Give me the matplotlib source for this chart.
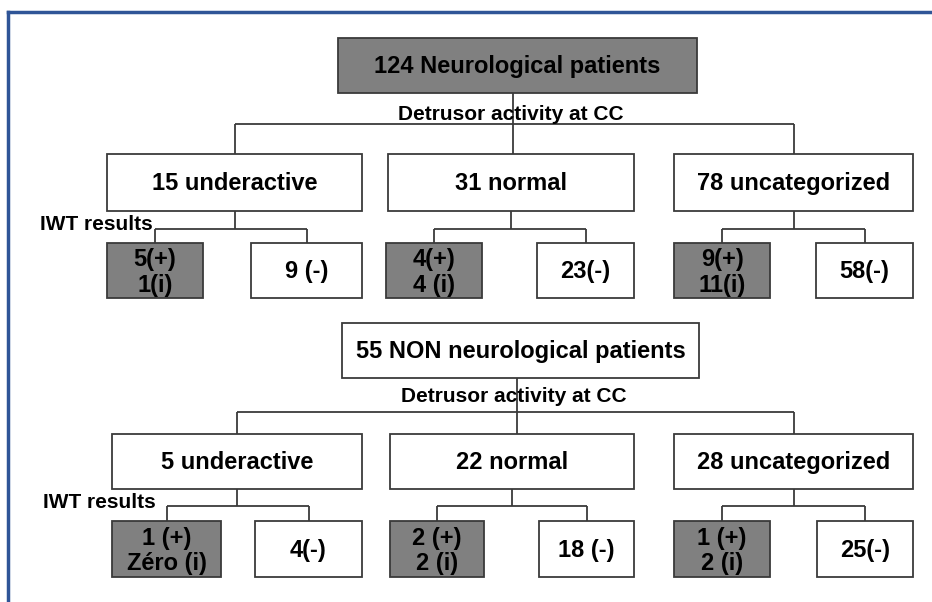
import matplotlib
matplotlib.use("Agg")
import matplotlib.pyplot as plt
from matplotlib.patches import Rectangle

# ── data ──────────────────────────────────────────────────────────────────────
ROOT_LABELS = ["124 Neurological patients", "55 NON neurological patients"]
BRANCH_TITLE = "Detrusor activity at CC"
RESULT_TITLE = "IWT results"

NEURO_GROUPS = ["15 underactive", "31 normal", "78 uncategorized"]
NEURO_POS = ["5(+)\n1(i)", "4(+)\n4 (i)", "9(+)\n11(i)"]
NEURO_NEG = ["9 (-)", "23(-)", "58(-)"]

NON_GROUPS = ["5 underactive", "22 normal", "28 uncategorized"]
NON_POS = ["1 (+)\nZéro (i)", "2 (+)\n2 (i)", "1 (+)\n2 (i)"]
NON_NEG = ["4(-)", "18 (-)", "25(-)"]

# ── style ─────────────────────────────────────────────────────────────────────
plt.rcParams["font.family"] = ["Liberation Sans", "DejaVu Sans"]
GREY = "#808080"
EDGE = "#3a3a3a"
FRAME = "#2F5597"
LW = 1.3
BOX_FS = 17
SMALL_FS = 15

fig = plt.figure(figsize=(9.32, 6.02), dpi=100)
ax = fig.add_axes([0, 0, 1, 1])
ax.set_xlim(0, 932)
ax.set_ylim(602, 0)
ax.axis("off")


def box(x0, y0, x1, y1, text, fill, size=BOX_FS):
    ax.add_patch(Rectangle((x0, y0), x1 - x0, y1 - y0, facecolor=fill,
                           edgecolor=EDGE, linewidth=LW, zorder=2))
    dy = 2 if "\n" in text else 1
    ax.text((x0 + x1) / 2, (y0 + y1) / 2 + dy, text, ha="center", va="center",
            fontsize=size, fontweight="bold", linespacing=1.12, zorder=3)


def line(xs, ys):
    ax.plot(xs, ys, color=EDGE, linewidth=LW, zorder=1, solid_capstyle="butt")


def tree(root, root_fill, root_box, stem_x, bar_y, title_y,
         groups, pos, neg, grp_y, grp_x, res_bar_y, res_y, pos_x, neg_x,
         iwt_xy):
    rx0, ry0, rx1, ry1 = root_box
    box(rx0, ry0, rx1, ry1, root, root_fill)
    centres = [(a + b) / 2 for a, b in grp_x]
    line([stem_x, stem_x], [ry1, grp_y[0]])
    line([centres[0], centres[-1]], [bar_y, bar_y])
    for c in centres:
        if abs(c - stem_x) > 10:
            line([c, c], [bar_y, grp_y[0]])
    ax.text((rx0 + rx1) / 2 - 7, title_y, BRANCH_TITLE, ha="center",
            va="center", fontsize=SMALL_FS, fontweight="bold", zorder=3)

    for (gx0, gx1), g, p, n, (px0, px1), (nx0, nx1) in zip(
            grp_x, groups, pos, neg, pos_x, neg_x):
        box(gx0, grp_y[0], gx1, grp_y[1], g, "white")
        gc = (gx0 + gx1) / 2
        pc = (px0 + px1) / 2
        nc = (nx0 + nx1) / 2
        line([gc, gc], [grp_y[1], res_bar_y])
        line([pc, nc], [res_bar_y, res_bar_y])
        line([pc, pc], [res_bar_y, res_y[0]])
        line([nc, nc], [res_bar_y, res_y[0]])
        box(px0, res_y[0], px1, res_y[1], p, GREY)
        box(nx0, res_y[0], nx1, res_y[1], n, "white")

    ax.text(iwt_xy[0], iwt_xy[1], RESULT_TITLE, ha="right", va="center",
            fontsize=SMALL_FS, fontweight="bold", zorder=3)


# neurological patients
tree(ROOT_LABELS[0], GREY, (338, 38, 697, 93), 513, 124, 114,
     NEURO_GROUPS, NEURO_POS, NEURO_NEG,
     (154, 211), [(107, 362), (388, 634), (674, 913)],
     229, (243, 298),
     [(107, 203), (386, 482), (674, 770)],
     [(251, 362), (537, 634), (816, 913)],
     (153, 224))

# non neurological patients
tree(ROOT_LABELS[1], "white", (342, 323, 699, 378), 517, 412, 397,
     NON_GROUPS, NON_POS, NON_NEG,
     (434, 489), [(112, 362), (390, 634), (674, 913)],
     506, (521, 577),
     [(112, 221), (390, 484), (674, 770)],
     [(255, 362), (539, 634), (817, 913)],
     (156, 503))

# blue frame (top and left edges)
ax.plot([8, 932], [12, 12], color=FRAME, linewidth=2.5, zorder=4)
ax.plot([8, 8], [12, 602], color=FRAME, linewidth=2.5, zorder=4)

fig.savefig("out.png", dpi=100, facecolor="white")
